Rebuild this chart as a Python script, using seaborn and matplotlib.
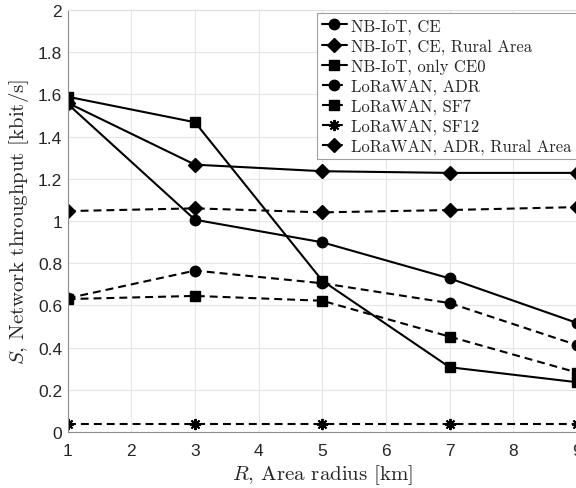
import matplotlib
matplotlib.use("Agg")
import matplotlib.pyplot as plt
import seaborn as sns
import pandas as pd

radius = [1, 3, 5, 7, 9]
nbiot_ce = [1.555, 1.006, 0.899, 0.728, 0.517]
nbiot_ce_rural = [1.56, 1.267, 1.236, 1.228, 1.228]
nbiot_ce0 = [1.589, 1.468, 0.717, 0.307, 0.236]
lora_adr = [0.634, 0.765, 0.705, 0.611, 0.412]
lora_sf7 = [0.630, 0.645, 0.622, 0.452, 0.282]
lora_sf12 = [0.038, 0.038, 0.038, 0.038, 0.038]
lora_adr_rural = [1.047, 1.060, 1.041, 1.052, 1.066]

labels = ["NB-IoT, CE", "NB-IoT, CE, Rural Area", "NB-IoT, only CE0",
          "LoRaWAN, ADR", "LoRaWAN, SF7", "LoRaWAN, SF12",
          "LoRaWAN, ADR, Rural Area"]
series = [nbiot_ce, nbiot_ce_rural, nbiot_ce0, lora_adr, lora_sf7,
          lora_sf12, lora_adr_rural]
markers = ["o", "D", "s", "o", "s", (8, 2, 0), "D"]
msizes = [7.5, 7.5, 7, 7.5, 7, 8, 7.5]
dashed = [False, False, False, True, True, True, True]

xticks = [1, 2, 3, 4, 5, 6, 7, 8, 9]
yticks = [0, 0.2, 0.4, 0.6, 0.8, 1.0, 1.2, 1.4, 1.6, 1.8, 2.0]
yticklabels = ["0", "0.2", "0.4", "0.6", "0.8", "1", "1.2", "1.4", "1.6", "1.8", "2"]

sns.set_style("white")
plt.rcParams["mathtext.fontset"] = "cm"
plt.rcParams["font.family"] = ["Liberation Sans", "DejaVu Sans"]

fig = plt.figure(figsize=(5.76, 4.89), dpi=100)
ax = fig.add_axes([0.1175, 0.1145, 0.8842, 0.863])

for lab, vals, mk, ms, d in zip(labels, series, markers, msizes, dashed):
    df = pd.DataFrame({"R": radius, "S": vals})
    sns.lineplot(data=df, x="R", y="S", ax=ax, color="black", marker=mk,
                 markersize=ms, markeredgecolor="black", markerfacecolor="black",
                 markeredgewidth=1.4 if isinstance(mk, tuple) else 1.0,
                 linewidth=1.5, label=lab,
                 linestyle=(0, (3.8, 2.4)) if d else "-")

ax.set_xlim(1, 9)
ax.set_ylim(0, 2)
ax.set_xticks(xticks)
ax.set_xticklabels([str(t) for t in xticks])
ax.set_yticks(yticks)
ax.set_yticklabels(yticklabels)
ax.tick_params(axis="both", labelsize=12.5, length=4, direction="in",
               width=0.6, colors="#999999", labelcolor="#262626")
ax.tick_params(axis="x", pad=8)
ax.tick_params(axis="y", pad=4)
ax.grid(True, color="#e6e6e6", linewidth=0.8)
ax.set_axisbelow(True)
for side in ["left", "bottom"]:
    ax.spines[side].set_color("#8c8c8c")
    ax.spines[side].set_linewidth(0.8)
for side in ["top", "right"]:
    ax.spines[side].set_color("#e0e0e0")
    ax.spines[side].set_linewidth(0.8)

ax.set_xlabel("$R$, Area radius [km]", family=["cmr10"], fontsize=15,
              color="#262626", labelpad=3)
ax.set_ylabel("$S$, Network throughput [kbit/s]", family=["cmr10"], fontsize=15,
              color="#262626", labelpad=5)

leg = ax.legend(loc="upper left", bbox_to_anchor=(0.4895, 0.993),
                borderaxespad=0, prop={"family": "cmr10", "size": 12},
                handlelength=1.5, handletextpad=0.25, labelspacing=0.26,
                borderpad=0.3, fancybox=False, framealpha=1,
                edgecolor="#a0a0a0")
leg.get_frame().set_linewidth(0.8)

fig.savefig("out.png", dpi=100)
